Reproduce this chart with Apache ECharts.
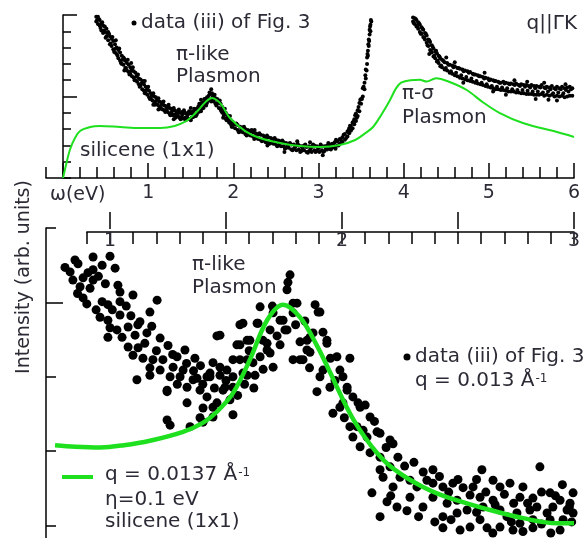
<!DOCTYPE html>
<html>
<head>
<meta charset="utf-8">
<script src="https://cdn.jsdelivr.net/npm/echarts@6/dist/echarts.min.js"></script>
<style>
  html, body { margin: 0; padding: 0; background: #fff; }
  #chart { width: 587px; height: 538px; }
</style>
</head>
<body>
<div id="chart"></div>
<script>
// Upper panel: loss spectrum vs ω (eV), measured dots, low-energy branch
const topDotsLow = [
  [0.39,9.9],[0.39,9.6],[0.41,9.45],[0.41,9.9],[0.43,9.7],[0.43,9.35],[0.45,9.05],[0.45,9.5],[0.47,9.35],[0.47,8.9],
  [0.49,8.95],[0.49,9.3],[0.51,8.7],[0.51,9.15],[0.53,8.95],[0.53,8.45],[0.55,8.2],[0.55,8.7],[0.57,8.55],[0.57,8.1],
  [0.59,7.9],[0.59,8.4],[0.61,8.2],[0.61,7.7],[0.63,7.6],[0.63,8.0],[0.65,7.85],[0.65,7.35],[0.67,7.2],[0.67,7.7],
  [0.69,7.5],[0.69,7.0],[0.71,6.95],[0.71,7.4],[0.73,7.2],[0.73,6.75],[0.75,6.6],[0.75,7.05],[0.77,6.95],[0.77,6.5],
  [0.79,6.4],[0.79,6.8],[0.81,6.7],[0.81,6.25],[0.83,6.15],[0.83,6.55],[0.85,6.45],[0.85,6.0],[0.87,5.9],[0.87,6.3],
  [0.89,6.1],[0.89,5.75],[0.91,5.65],[0.91,6.05],[0.93,5.85],[0.93,5.45],[0.95,5.35],[0.95,5.75],[0.97,5.6],[0.97,5.2],
  [0.99,5.1],[0.99,5.45],[1.01,5.35],[1.01,4.95],[1.03,4.9],[1.03,5.2],[1.05,5.1],[1.05,4.75],[1.07,4.7],[1.07,5.0],
  [1.09,4.95],[1.09,4.55],[1.11,4.5],[1.11,4.85],[1.13,4.7],[1.13,4.4],[1.15,4.3],[1.15,4.65],[1.17,4.55],[1.17,4.2],
  [1.19,4.15],[1.19,4.45],[1.21,4.4],[1.21,4.1],[1.23,4.05],[1.23,4.35],[1.25,4.3],[1.25,3.95],[1.27,3.95],[1.27,4.25],
  [1.29,4.2],[1.29,3.85],[1.31,3.9],[1.31,4.15],[1.33,4.1],[1.33,3.75],[1.35,3.8],[1.35,4.05],[1.37,4.0],[1.37,3.7],
  [1.39,3.75],[1.39,4.05],[1.41,3.95],[1.41,3.65],[1.43,3.7],[1.43,4.0],[1.45,3.95],[1.45,3.6],[1.47,3.65],[1.47,4.0],
  [1.49,3.95],[1.49,3.6],[1.51,3.7],[1.51,4.05],[1.53,4.1],[1.53,3.75],[1.55,3.85],[1.55,4.2],[1.57,4.25],[1.57,3.9],
  [1.59,4.05],[1.59,4.4],[1.61,4.45],[1.61,4.1],[1.63,4.25],[1.63,4.6],[1.65,4.65],[1.65,4.3],[1.67,4.5],[1.67,4.85],
  [1.69,4.95],[1.69,4.6],[1.71,4.75],[1.71,5.05],[1.73,5.15],[1.73,4.8],[1.75,4.85],[1.75,5.2],[1.77,5.05],[1.77,4.7],
  [1.79,4.9],[1.79,4.55],[1.81,4.55],[1.81,4.85],[1.83,4.7],[1.83,4.3],[1.85,4.2],[1.85,4.55],[1.87,4.35],[1.87,4.0],
  [1.89,3.85],[1.89,4.15],[1.91,4.0],[1.91,3.65],[1.93,3.55],[1.93,3.85],[1.95,3.7],[1.95,3.4],[1.97,3.3],[1.97,3.55],
  [1.99,3.45],[1.99,3.15],[2.02,3.3],[2.02,3.05],[2.05,2.95],[2.05,3.25],[2.08,3.15],[2.08,2.85],[2.11,2.8],[2.11,3.1],
  [2.14,3.0],[2.14,2.7],[2.17,2.65],[2.17,2.95],[2.2,2.9],[2.2,2.6],[2.23,2.55],[2.23,2.8],[2.26,2.75],[2.26,2.45],
  [2.29,2.4],[2.29,2.7],[2.32,2.65],[2.32,2.35],[2.35,2.3],[2.35,2.6],[2.38,2.5],[2.38,2.2],[2.41,2.2],[2.41,2.5],
  [2.44,2.45],[2.44,2.15],[2.47,2.1],[2.47,2.4],[2.5,2.35],[2.5,2.05],[2.53,2.0],[2.53,2.3],[2.56,2.25],[2.56,1.95],
  [2.59,1.95],[2.59,2.2],[2.62,2.15],[2.62,1.85],[2.65,1.85],[2.65,2.1],[2.68,2.05],[2.68,1.75],[2.71,1.8],[2.71,2.05],
  [2.74,2.0],[2.74,1.7],[2.77,1.75],[2.77,2.0],[2.8,1.95],[2.8,1.65],[2.83,1.7],[2.83,2.0],[2.86,1.9],[2.86,1.6],
  [2.89,1.65],[2.89,1.95],[2.92,1.9],[2.92,1.6],[2.95,1.7],[2.95,2.0],[2.98,1.95],[2.98,1.65],[3.01,1.6],[3.01,1.9],
  [3.04,1.95],[3.04,1.7],[3.07,1.65],[3.07,1.95],[3.1,2.0],[3.1,1.75],[3.13,1.8],[3.13,2.05],[3.16,2.1],[3.16,1.85],
  [3.19,1.9],[3.19,2.2],[3.22,2.25],[3.22,2.0],[3.25,2.1],[3.25,2.4],[3.28,2.5],[3.28,2.2],[3.31,2.35],[3.31,2.7],
  [3.34,2.85],[3.34,2.55],[3.36,2.75],[3.36,3.05],[3.38,3.2],[3.38,2.9],[3.4,3.05],[3.4,3.4],[3.42,3.6],[3.42,3.3],
  [3.44,3.5],[3.44,3.95],[3.46,4.15],[3.46,3.8],[3.48,4.1],[3.48,4.6],[3.5,4.85],[3.5,4.55],[3.52,5.0],[3.52,5.5],
  [3.54,5.85],[3.54,5.45],[3.555,6.1],[3.555,6.65],[3.57,7.0],[3.57,7.4],[3.58,7.8],[3.58,7.5],[3.59,8.1],[3.59,8.5],
  [3.6,8.8],[3.6,9.1],[3.61,9.4],[3.61,9.0],[3.62,9.6]
];

// Upper panel, low-energy branch: further dots filling out the band
const topDotsLowMid = [
  [0.40,9.7],[0.42,9.75],[0.44,9.2],[0.46,9.55],[0.48,9.05],[0.50,8.6],[0.52,8.9],[0.54,8.85],[0.56,8.25],[0.58,8.65],
  [0.60,7.75],[0.62,7.95],[0.64,7.5],[0.66,7.95],[0.68,7.05],[0.70,7.25],[0.72,7.3],[0.74,6.75],[0.76,7.25],[0.78,6.35],
  [0.80,6.6],[0.82,6.8],[0.84,6.0],[0.86,6.25],[0.88,6.35],[0.90,5.6],[0.92,5.8],[0.94,5.95],[0.96,5.2],[0.98,5.4],
  [1.00,5.6],[1.02,4.85],[1.04,5.05],[1.06,5.2],[1.08,4.5],[1.10,4.75],[1.12,4.9],[1.14,4.25],[1.16,4.5],[1.18,4.7],
  [1.20,4.05],[1.22,4.25],[1.24,4.5],[1.26,3.85],[1.28,4.1],[1.30,4.3],[1.32,3.7],[1.34,3.95],[1.36,4.2],[1.38,3.6],
  [1.40,3.9],[1.42,4.15],[1.44,3.55],[1.46,3.85],[1.48,4.1],[1.50,3.55],[1.52,3.95],[1.54,4.25],[1.56,3.8],[1.58,4.2],
  [1.60,4.55],[1.62,4.1],[1.64,4.5],[1.66,4.85],[1.68,4.45],[1.70,4.9],[1.72,5.25],[1.74,4.7],[1.76,5.0],[1.78,5.1],
  [1.80,4.45],[1.82,4.65],[1.84,4.75],[1.86,4.1],[1.88,4.15],[1.90,4.25],[1.92,3.55],[1.94,3.7],[1.96,3.8],[1.98,3.15],
  [2.00,3.3],[2.035,3.35],[2.065,2.8],[2.095,3.0],[2.125,3.15],[2.155,2.6],[2.185,2.8],[2.215,2.95],[2.245,2.4],[2.275,2.6],
  [2.305,2.75],[2.335,2.25],[2.365,2.45],[2.395,2.6],[2.425,2.1],[2.455,2.3],[2.485,2.45],[2.515,1.95],[2.545,2.15],[2.575,2.3],
  [2.605,1.8],[2.635,2.0],[2.665,2.15],[2.695,1.7],[2.725,1.9],[2.755,2.1],[2.785,1.6],[2.815,1.85],[2.845,2.05],[2.875,1.55],
  [2.905,1.8],[2.935,2.05],[2.965,1.6],[2.995,1.8],[3.025,2.05],[3.055,1.6],[3.085,1.85],[3.115,2.15],[3.145,1.75],[3.175,2.05],
  [3.205,2.35],[3.235,2.0],[3.265,2.3],[3.295,2.65],[3.325,2.45],[3.35,2.9],[3.37,3.2],[3.39,3.0],[3.41,3.45],[3.43,3.85],
  [3.45,3.7],[3.47,4.35],[3.49,4.8],[3.51,4.85],[3.53,5.6],[3.55,6.3],[3.565,6.6],[3.575,7.6],[3.585,8.2],[3.595,8.4],
  [3.605,9.3],[3.615,9.7],
  [0.62,8.45],[0.72,6.6],[0.8,7.05],[0.96,5.95],[1.06,4.5],[1.12,4.2],[1.3,3.6],[1.5,4.3],[1.62,4.8],[1.74,5.45],
  [1.88,3.7],[2.25,2.95],[2.4,2.0],[2.6,1.6],[2.75,2.25],[2.9,2.2],[3.05,1.4],[3.2,1.8]
];

// Upper panel: measured dots, high-energy branch
const topDotsHigh = [
  [4.11,9.85],[4.11,9.6],[4.13,9.45],[4.13,9.8],[4.15,9.7],[4.15,9.3],[4.17,9.15],[4.17,9.55],[4.19,9.4],[4.19,8.95],
  [4.21,8.85],[4.21,9.25],[4.23,9.1],[4.23,8.65],[4.25,8.5],[4.25,8.9],[4.27,8.75],[4.27,8.3],[4.29,8.1],[4.29,8.5],
  [4.31,8.35],[4.31,7.85],[4.33,7.7],[4.33,8.15],[4.35,7.95],[4.35,7.45],[4.37,7.35],[4.37,7.75],[4.39,7.65],[4.39,7.15],
  [4.41,7.05],[4.41,7.5],[4.43,7.35],[4.43,6.85],[4.45,6.8],[4.45,7.25],[4.48,7.1],[4.48,6.65],[4.51,6.6],[4.51,7.05],
  [4.54,6.95],[4.54,6.45],[4.57,6.4],[4.57,6.9],[4.6,6.85],[4.6,6.3],[4.63,6.25],[4.63,6.75],[4.66,6.7],[4.66,6.15],
  [4.69,6.1],[4.69,6.65],[4.72,6.6],[4.72,6.05],[4.75,6.0],[4.75,6.55],[4.78,6.5],[4.78,5.95],[4.81,5.9],[4.81,6.4],
  [4.84,6.35],[4.84,5.85],[4.87,5.8],[4.87,6.3],[4.9,6.25],[4.9,5.75],[4.93,5.7],[4.93,6.2],[4.96,6.15],[4.96,5.65],
  [4.99,5.6],[4.99,6.1],[5.02,6.05],[5.02,5.55],[5.05,5.5],[5.05,6.0],[5.08,5.95],[5.08,5.45],[5.11,5.45],[5.11,5.9],
  [5.14,5.85],[5.14,5.4],[5.17,5.4],[5.17,5.9],[5.2,5.85],[5.2,5.35],[5.23,5.3],[5.23,5.8],[5.26,5.8],[5.26,5.3],
  [5.29,5.3],[5.29,5.75],[5.32,5.8],[5.32,5.25],[5.35,5.25],[5.35,5.7],[5.38,5.75],[5.38,5.2],[5.41,5.2],[5.41,5.7],
  [5.44,5.7],[5.44,5.15],[5.47,5.15],[5.47,5.65],[5.5,5.7],[5.5,5.15],[5.53,5.1],[5.53,5.65],[5.56,5.65],[5.56,5.1],
  [5.59,5.1],[5.59,5.6],[5.62,5.7],[5.62,5.15],[5.65,5.05],[5.65,5.55],[5.68,5.6],[5.68,5.1],[5.71,5.05],[5.71,5.55],
  [5.74,5.65],[5.74,5.1],[5.77,5.0],[5.77,5.5],[5.8,5.6],[5.8,5.05],[5.83,5.0],[5.83,5.5],[5.86,5.6],[5.86,5.05],
  [5.89,4.95],[5.89,5.5],[5.92,5.55],[5.92,5.0],[5.95,5.05],[5.95,5.6],[5.98,5.5],[5.98,5.05]
];

// Upper panel, high-energy branch: further dots filling out the band
const topDotsHighMid = [
  [4.12,9.5],[4.14,9.75],[4.16,9.35],[4.18,9.5],[4.20,8.85],[4.22,9.15],[4.24,8.6],[4.26,8.85],[4.28,8.15],[4.30,8.45],
  [4.32,7.8],[4.34,8.05],[4.36,7.5],[4.38,7.8],[4.40,7.2],[4.42,7.45],[4.44,6.9],[4.465,7.2],[4.495,6.75],[4.525,6.95],
  [4.555,6.55],[4.585,6.8],[4.615,6.45],[4.645,6.75],[4.675,6.3],[4.705,6.55],[4.735,6.2],[4.765,6.45],[4.795,6.1],[4.825,6.35],
  [4.855,5.95],[4.885,6.25],[4.915,5.85],[4.945,6.1],[4.975,5.75],[5.005,6.0],[5.035,5.65],[5.065,5.95],[5.095,5.6],[5.125,5.85],
  [5.155,5.55],[5.185,5.8],[5.215,5.5],[5.245,5.75],[5.275,5.45],[5.305,5.7],[5.335,5.4],[5.365,5.65],[5.395,5.4],[5.425,5.6],
  [5.455,5.35],[5.485,5.55],[5.515,5.3],[5.545,5.5],[5.575,5.3],[5.605,5.55],[5.635,5.25],[5.665,5.5],[5.695,5.3],[5.725,5.45],
  [5.755,5.2],[5.785,5.45],[5.815,5.25],[5.845,5.45],[5.875,5.2],[5.905,5.4],[5.935,5.3],[5.965,5.45],
  [4.3,7.6],[4.5,7.4],[4.6,7.1],[4.7,5.85],[4.95,6.45],[5.05,5.3],[5.2,5.1],[5.3,6.0],[5.45,5.9],[5.55,4.85],
  [5.65,5.85],[5.7,4.8],[5.8,4.75],[5.9,5.75]
];

// Upper panel: calculated loss function, silicene (1x1)
const topFit = [
  [0,0],[0.035,0.8],[0.08,1.72],[0.14,2.45],[0.2,2.88],[0.32,3.13],[0.43,3.19],[0.67,3.13],[0.9,3.07],
  [1.14,3.07],[1.31,3.19],[1.45,3.5],[1.53,3.85],[1.61,4.29],[1.68,4.7],[1.75,4.91],[1.8,4.8],[1.86,4.5],
  [1.96,3.68],[2.14,2.88],[2.31,2.45],[2.55,2.15],[2.78,1.96],[3.02,1.9],[3.25,2.02],[3.43,2.33],[3.55,2.75],
  [3.64,3.13],[3.74,3.9],[3.84,4.79],[3.91,5.5],[3.97,5.85],[4.08,6.0],[4.19,6.02],[4.27,5.92],[4.38,6.12],
  [4.54,5.89],[4.74,5.4],[4.93,4.65],[5.13,3.98],[5.4,3.37],[5.8,2.82],[6.0,2.52]
];

// Lower panel: measured dots around the π-like plasmon
const lowerDots = [
  [0.849,4.57],[0.927,4.61],[1.000,4.62],[0.966,4.50],[0.927,4.44],[1.022,4.46],[0.828,4.41],[0.840,4.30],[0.884,4.33],[0.927,4.30],
  [0.871,4.21],[0.914,4.19],[0.884,4.06],[1.034,4.23],[1.043,4.14],[1.099,4.10],[1.043,4.01],[1.203,4.03],[0.966,4.01],[0.991,3.97],
  [0.957,3.80],[0.991,3.76],[1.043,3.83],[1.172,3.87],[1.129,3.74],[1.000,3.66],[1.030,3.63],[1.078,3.67],[0.991,3.53],[1.052,3.53],
  [1.108,3.56],[1.159,3.59],[1.216,3.52],[1.078,3.40],[1.121,3.39],[1.099,3.29],[1.142,3.25],[1.185,3.23],[1.228,3.23],[1.289,3.27],
  [1.323,3.36],[1.366,3.25],[1.461,3.55],[1.172,3.12],[1.216,3.09],[1.272,3.13],[1.315,3.09],[1.444,3.19],[1.504,3.09],[1.116,2.96],
  [1.259,3.00],[1.302,3.00],[1.375,2.98],[1.431,3.05],[1.172,3.02],[1.246,2.82],[1.332,2.86],[1.358,2.96],[1.388,2.82],[1.418,2.73],
  [1.444,2.59],[1.246,2.42],[1.259,2.35],[1.345,2.33],[1.388,2.45],[1.530,2.49],[1.431,3.00],[1.474,3.13],[1.530,3.00],[1.474,3.56],
  [1.560,3.43],[1.560,3.70],[1.591,3.49],[1.634,3.72],[1.659,3.49],[1.677,3.36],[1.703,3.13],[1.616,3.19],[1.591,3.23],[1.530,3.23],
  [1.647,3.94],[1.703,3.86],[1.746,3.76],[1.763,3.63],[1.789,3.99],[1.789,3.23],[1.776,4.37],[1.767,4.27],[1.763,4.17],[1.806,3.99],
  [1.884,3.97],[1.897,3.87],[1.733,3.76],[1.690,3.63],[1.573,3.72],[1.638,3.72],[1.754,3.63],[1.819,3.47],[1.849,3.36],[1.832,3.23],
  [1.862,3.53],[1.918,3.60],[1.935,3.49],[1.677,3.45],[1.733,3.43],[1.603,3.49],[1.547,3.43],[1.647,3.27],[1.690,3.32],[1.560,3.23],
  [1.474,3.02],[1.418,3.00],[1.591,3.02],[1.496,2.86],[1.978,3.27],[2.034,3.25],[1.991,3.09],[1.905,3.00],[2.004,3.00],[1.892,2.80],
  [2.022,2.82],[2.047,2.73],[2.069,2.65],[1.991,2.59],[1.517,2.69],[1.905,3.87],[1.789,3.86],[1.849,3.49],[1.875,3.59],[1.935,3.45],
  [1.819,3.23],[1.862,3.33],[1.918,3.09],[1.961,2.51],[2.022,2.86],[2.078,2.59],[2.121,2.46],[2.065,2.33],[2.108,2.19],[2.164,2.24],
  [2.207,2.15],[1.948,2.86],[2.004,2.65],[2.034,2.33],[2.047,2.19],[2.091,2.28],[2.151,2.26],[2.078,2.06],[2.121,1.98],[2.164,1.92],
  [2.241,1.92],[2.129,1.44],[2.164,1.75],[2.177,1.65],[2.207,1.79],[2.250,1.65],[2.220,1.52],[2.293,1.61],[2.323,1.52],[2.392,1.75],
  [2.366,1.61],[2.392,1.57],[2.194,1.32],[2.237,1.25],[2.164,1.12],[2.293,1.38],[2.349,1.25],[2.392,1.38],[2.435,1.52],[2.478,1.57],
  [2.522,1.51],[2.565,1.52],[2.603,1.75],[2.453,1.30],[2.496,1.34],[2.552,1.41],[2.595,1.38],[2.435,1.12],[2.496,1.17],[2.539,1.21],
  [2.608,1.25],[2.651,1.61],[2.681,1.52],[2.724,1.57],[2.767,1.38],[2.823,1.37],[2.853,1.79],[2.897,1.44],[2.940,1.34],[2.983,1.30],
  [2.996,1.44],[2.970,1.21],[2.909,1.25],[2.884,1.17],[2.651,1.34],[2.681,1.21],[2.711,1.12],[2.754,1.17],[2.810,1.21],[2.823,1.08],
  [2.767,1.03],[2.595,1.08],[2.552,0.98],[2.509,0.94],[2.435,0.97],[2.625,0.97],[2.681,0.98],[2.897,1.08],[2.953,1.08],[2.996,1.17],
  [2.737,0.94],[2.823,0.97],[2.940,0.94],[1.246,2.80],[1.332,2.65],[1.401,2.58],[1.401,2.39],[1.461,2.65],[1.444,2.46],[1.487,2.82],
  [1.530,2.86],[1.573,3.05],[1.625,3.02],
  [0.806,4.47],[0.862,4.52],[0.905,4.40],[0.950,4.35],[0.980,4.25],[0.860,4.12],[0.900,3.98],[0.940,3.90],[1.010,3.90],[1.070,3.95],
  [1.090,3.82],[1.120,3.70],[1.180,3.68],[1.150,3.45],[1.200,3.35],[1.250,3.42],[1.270,3.30],[1.330,3.18],[1.390,3.15],[1.360,3.08],
  [1.290,2.90],[1.400,2.90],[1.450,2.85],[1.500,2.95],[1.550,2.75],[1.580,2.90],[1.620,2.85],[1.600,3.35],[1.660,3.10],[1.720,3.55],
  [1.700,3.95],[1.800,3.70],[1.840,3.75],[1.860,3.12],[1.950,3.25],[1.970,2.95],[2.010,2.45],[2.100,2.62],[2.140,2.40],[2.190,2.05],
  [2.220,2.10],[2.270,1.80],[2.310,1.85],[2.350,1.72],[2.420,1.66],[2.460,1.45],[2.500,1.62],[2.580,1.62],[2.620,1.45],[2.660,1.28],
  [2.700,1.42],[2.740,1.30],[2.780,1.52],[2.800,1.30],[2.840,1.25],[2.860,1.45],[2.920,1.40],[2.950,1.55],[2.980,1.25],[2.580,1.18],
  [2.470,1.08],[2.400,1.05],[2.330,1.12],[2.280,1.20],[2.210,1.40],[2.730,1.05],[2.860,1.02],[2.990,1.05],[2.650,0.90],[2.780,0.92],
  [2.900,0.90]
];

// Lower panel: calculated loss function, q = 0.0137 Å⁻¹, η = 0.1 eV
const lowerFit = [
  [0.763,2.08],[0.85,2.06],[0.957,2.05],[1.06,2.08],[1.172,2.14],[1.315,2.26],[1.40,2.38],[1.461,2.53],
  [1.53,2.78],[1.603,3.23],[1.677,3.76],[1.746,3.97],[1.819,3.80],[1.892,3.42],[1.95,3.05],[2.0,2.72],
  [2.05,2.42],[2.1,2.18],[2.15,1.98],[2.207,1.80],[2.28,1.64],[2.349,1.52],[2.42,1.42],[2.496,1.34],
  [2.638,1.21],[2.78,1.10],[2.927,1.03],[3.0,1.03]
];

// Tick positions
const topMajorTicks = [0, 1, 2, 3, 4, 5, 6];
const topTickLabels = [1, 2, 3, 4, 5, 6];
const topYMajorTicks = [5, 10];
const lowerMajorTicks = [1, 1.5, 2, 2.5, 3];
const lowerTickLabels = [1, 2, 3];
const lowerYMinorTicks = [1, 2, 3, 5];
const lowerYMajorTicks = [4];

const FONT = '"DejaVu Sans", sans-serif';
const INK = '#2b2b36';
const GREEN = '#1fe01f';
const AXIS = { color: '#000', width: 1.5 };

// Plain or rich text placed at a pixel anchor
function txt(x, y, text, extra) {
  extra = extra || {};
  const size = extra.size || 20;
  const el = {
    type: 'text', x: x, y: y, z: 50,
    style: Object.assign({
      text: text, fill: INK, font: size + 'px ' + FONT,
      textAlign: 'left', textVerticalAlign: 'middle',
      align: 'left', verticalAlign: 'middle',
      rich: {
        b: { fontSize: size, fontFamily: FONT, color: INK, verticalAlign: 'top', lineHeight: 24 },
        s: { fontSize: 12, fontFamily: FONT, color: INK, verticalAlign: 'top', lineHeight: 24, padding: [2, 0, 0, 1] }
      }
    }, extra.style || {})
  };
  if (extra.rotation !== undefined) el.rotation = extra.rotation;
  return el;
}

const chart = echarts.init(document.getElementById('chart'), null, { renderer: 'canvas' });

const labelStyle = { fontFamily: FONT, fontSize: 19, color: INK };
const dot = { color: '#000', opacity: 1 };

chart.setOption({
  animation: false,
  backgroundColor: '#fff',
  grid: [
    { left: 46, top: 15, width: 528, height: 163 },
    { left: 86.8, top: 212, width: 487.2, height: 20 },
    { left: 46, top: 228, width: 528, bottom: 0 }
  ],
  xAxis: [
    { gridIndex: 0, type: 'value', min: -0.2, max: 6, interval: 0.2, position: 'bottom',
      axisLine: { show: true, lineStyle: AXIS },
      axisTick: { show: true, inside: true, length: 11, lineStyle: AXIS },
      axisLabel: { show: false }, splitLine: { show: false } },
    { gridIndex: 0, type: 'value', min: -0.2, max: 6, position: 'bottom',
      axisLine: { show: false },
      axisTick: { show: true, inside: true, length: 15, customValues: topMajorTicks, lineStyle: AXIS },
      axisLabel: Object.assign({ show: true, customValues: topTickLabels, margin: 6 }, labelStyle),
      splitLine: { show: false } },
    { gridIndex: 1, type: 'value', min: 0.9, max: 3, interval: 0.1, position: 'top',
      axisLine: { show: true, lineStyle: AXIS },
      axisTick: { show: true, inside: true, length: 12, lineStyle: AXIS },
      axisLabel: { show: false }, splitLine: { show: false } },
    { gridIndex: 1, type: 'value', min: 0.9, max: 3, position: 'top',
      axisLine: { show: false },
      axisTick: { show: true, inside: true, length: 17, customValues: lowerMajorTicks, lineStyle: AXIS },
      axisLabel: Object.assign({ show: true, inside: true, customValues: lowerTickLabels, margin: 20 }, labelStyle),
      splitLine: { show: false } },
    { gridIndex: 2, type: 'value', min: 0.7241, max: 3, show: false }
  ],
  yAxis: [
    { gridIndex: 0, type: 'value', min: 0, max: 10, interval: 1,
      axisLine: { show: true, lineStyle: AXIS },
      axisTick: { show: true, inside: true, length: 8, lineStyle: AXIS },
      axisLabel: { show: false }, splitLine: { show: false } },
    { gridIndex: 0, type: 'value', min: 0, max: 10, position: 'left',
      axisLine: { show: false },
      axisTick: { show: true, inside: true, length: 14, customValues: topYMajorTicks, lineStyle: AXIS },
      axisLabel: { show: false }, splitLine: { show: false } },
    { gridIndex: 1, type: 'value', show: false },
    { gridIndex: 2, type: 'value', min: 0.8333, max: 5,
      axisLine: { show: true, lineStyle: AXIS },
      axisTick: { show: true, inside: true, length: 10, customValues: lowerYMinorTicks, lineStyle: AXIS },
      axisLabel: { show: false }, splitLine: { show: false } },
    { gridIndex: 2, type: 'value', min: 0.8333, max: 5, position: 'left',
      axisLine: { show: false },
      axisTick: { show: true, inside: true, length: 17, customValues: lowerYMajorTicks, lineStyle: AXIS },
      axisLabel: { show: false }, splitLine: { show: false } }
  ],
  series: [
    { type: 'scatter', xAxisIndex: 0, yAxisIndex: 0, data: topDotsLow, symbolSize: 4, itemStyle: dot, silent: true },
    { type: 'scatter', xAxisIndex: 0, yAxisIndex: 0, data: topDotsLowMid, symbolSize: 4, itemStyle: dot, silent: true },
    { type: 'scatter', xAxisIndex: 0, yAxisIndex: 0, data: topDotsHigh, symbolSize: 4, itemStyle: dot, silent: true },
    { type: 'scatter', xAxisIndex: 0, yAxisIndex: 0, data: topDotsHighMid, symbolSize: 4, itemStyle: dot, silent: true },
    { type: 'line', xAxisIndex: 0, yAxisIndex: 0, data: topFit, smooth: 0.35, showSymbol: false,
      lineStyle: { color: GREEN, width: 2 }, z: 5, silent: true },
    { type: 'scatter', xAxisIndex: 4, yAxisIndex: 3, data: lowerDots, symbolSize: 9, itemStyle: dot, silent: true },
    { type: 'line', xAxisIndex: 4, yAxisIndex: 3, data: lowerFit, smooth: 0.35, showSymbol: false,
      lineStyle: { color: GREEN, width: 4.5 }, z: 5, silent: true }
  ],
  graphic: [
    { type: 'circle', shape: { cx: 134, cy: 23, r: 2.5 }, style: { fill: '#000' }, z: 50 },
    txt(141, 23, 'data (iii) of Fig. 3'),
    txt(577, 24, 'q||ΓK', { style: { textAlign: 'right', align: 'right' } }),
    txt(176, 55, 'π-like'),
    txt(176, 77, 'Plasmon'),
    txt(80, 151, 'silicene (1x1)'),
    txt(402, 94, 'π-σ'),
    txt(402, 118, 'Plasmon'),
    txt(50, 195, 'ω(eV)', { size: 19 }),
    txt(24, 277, 'Intensity (arb. units)', { size: 19, rotation: Math.PI / 2, style: { textAlign: 'center', align: 'center' } }),
    txt(192, 265, 'π-like'),
    txt(192, 288, 'Plasmon'),
    { type: 'circle', shape: { cx: 407, cy: 357, r: 3.5 }, style: { fill: '#000' }, z: 50 },
    txt(415, 357, 'data (iii) of Fig. 3'),
    txt(415, 383, '{b|q = 0.013 Å}{s|-1}'),
    { type: 'line', shape: { x1: 62, y1: 477, x2: 93, y2: 477 }, style: { stroke: GREEN, lineWidth: 4 }, z: 50 },
    txt(105, 477, '{b|q = 0.0137 Å}{s|-1}'),
    txt(105, 500, 'η=0.1 eV'),
    txt(105, 522, 'silicene (1x1)')
  ]
});
</script>
</body>
</html>
